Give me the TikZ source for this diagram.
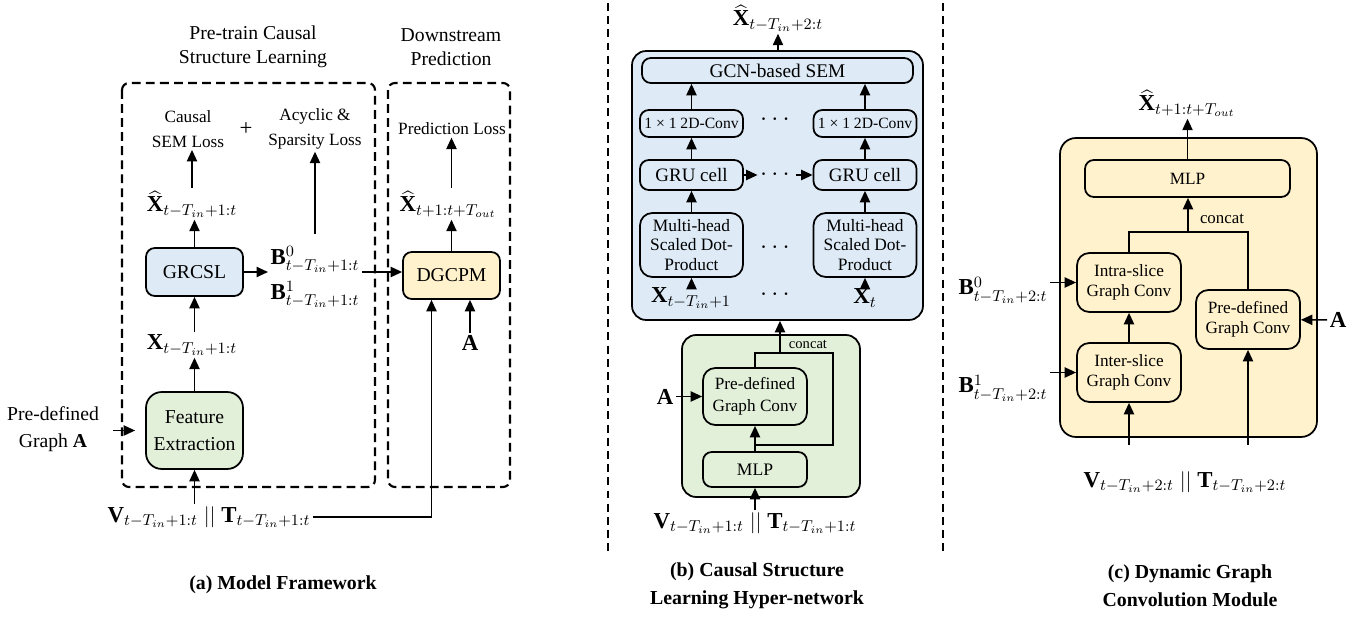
\documentclass[tikz,border=0pt]{standalone}
\usepackage{fontspec}
\setmainfont{Liberation Serif}
\usepackage{amsmath}
\usepackage{tikz}
\usetikzlibrary{calc}
\usetikzlibrary{positioning}
\usetikzlibrary{arrows.meta}
\definecolor{boxblue}{HTML}{DEEBF7}
\definecolor{boxgreen}{HTML}{E2F0D9}
\definecolor{boxyellow}{HTML}{FFF2CC}
\tikzset{blk/.style={draw=black, line width=1pt, rounded corners=5pt, inner sep=1pt, align=center}}
\tikzset{dashbox/.style={draw=black, line width=1.2pt, dash pattern=on 5pt off 3pt, rounded corners=4pt}}
\tikzset{sepline/.style={draw=black, line width=0.6pt, dash pattern=on 4.5pt off 3pt}}
\tikzset{lbl/.style={inner sep=1pt, font=\fontsize{13}{15}\selectfont}}
\tikzset{txt/.style={inner sep=1pt, align=center, font=\fontsize{11.2}{14}\selectfont}}
\tikzset{dots/.style={inner sep=1pt, font=\fontsize{14}{15}\selectfont}}
\tikzset{captxt/.style={align=center, font=\bfseries\fontsize{11.3}{16}\selectfont}}

\begin{document}
\begin{tikzpicture}[x=0.02cm, y=-0.02cm, >={Triangle[length=6.5pt,width=5.8pt]}, line width=0.9pt]
		\useasboundingbox (0,0) rectangle (1367,618);
		% (a) model framework
		\draw[dashbox] (122,83) rectangle (375,487);
		\draw[dashbox] (388,83) rectangle (510,487);
		\node[txt] (ttl1) at (253,47) {Pre-train Causal\\Structure Learning};
		\node[txt] (ttl2) at (451,47) {Downstream\\Prediction};
		\node[txt, font=\fontsize{9.8}{14}\selectfont] (semloss) at (188,129) {Causal\\SEM Loss};
		\node[txt, font=\fontsize{13}{15}\selectfont] (plus) at (246,129) {+};
		\node[txt, font=\fontsize{9.8}{14}\selectfont] (acyloss) at (315,129) {Acyclic \&\\Sparsity Loss};
		\node[txt, font=\fontsize{9.8}{14}\selectfont] (predloss) at (452,129) {Prediction Loss};
		\node[lbl] (xhata) at (192,204) {$\widehat{\mathbf X}_{t-T_{in}+1:t}$};
		\node[lbl] (xhatb) at (448,204) {$\widehat{\mathbf X}_{t+1:t+T_{out}}$};
		\node[blk, fill=boxblue, minimum width=1.94cm, minimum height=0.96cm, txt] (grcsl) at (194.5,272) {GRCSL};
		\node[lbl, anchor=west, align=left] (bb) at (268,277) {$\mathbf B^0_{t-T_{in}+1:t}$\\[5pt]$\mathbf B^1_{t-T_{in}+1:t}$};
		\node[blk, fill=boxyellow, minimum width=1.94cm, minimum height=0.94cm, txt] (dgcpm) at (451.5,275.5) {DGCPM};
		\node[lbl] (xa) at (192,345) {$\mathbf X_{t-T_{in}+1:t}$};
		\node[lbl] (aa) at (470,343) {$\mathbf A$};
		\node[blk, fill=boxgreen, rounded corners=9pt, minimum width=1.94cm, minimum height=1.54cm, txt, font=\fontsize{11.2}{15.5}\selectfont] (featx) at (194.5,430.5) {Feature\\Extraction};
		\node[txt, font=\fontsize{11.2}{15.5}\selectfont] (pgraph) at (53,429) {Pre-defined\\Graph $\mathbf A$};
		\node[lbl] (vta) at (209,517) {$\mathbf V_{t-T_{in}+1:t}\;||\;\mathbf T_{t-T_{in}+1:t}$};
		\node[captxt] (capa) at (283,585) {(a) Model Framework};
		\coordinate (acyin) at (315,234);
		\path [->] (dgcpm.north |- xhata.north) edge (dgcpm.north |- predloss.south);
		\path [->] (xhata.north) edge (xhata.north |- semloss.south);
		\path [->] (acyin) edge (acyin |- acyloss.south);
		\path [->] (grcsl.north) edge (grcsl.north |- xhata.south);
		\path [->] (grcsl.south |- xa.north) edge (grcsl.south);
		\path [->] (featx.north) edge (featx.north |- xa.south);
		\path [->] (featx.south |- vta.north) edge (featx.south);
		\path [->] (grcsl.east) edge (grcsl.east -| bb.west);
		\path [->] (grcsl.east -| bb.east) edge (grcsl.east -| dgcpm.west);
		\path [->] (dgcpm.north) edge (dgcpm.north |- xhatb.south);
		\path [->] (aa.north) edge (aa.north |- dgcpm.south);
		\path [->, shorten <=6.8pt, shorten >=5.7pt] (pgraph.east |- featx.west) edge (featx.west);
		\draw [->] (vta.east) -| ($(dgcpm.south)+(-20,0)$);
		% (b) hyper-network
		\draw[sepline] (608,3) -- (608,553);
		\draw[sepline] (943,3) -- (943,553);
		\node[blk, fill=boxblue, rounded corners=8pt, minimum width=5.82cm, minimum height=5.38cm] (hyper) at (777.5,185.5) {};
		\node[blk, fill=boxblue, minimum width=5.42cm, minimum height=0.5cm, font=\fontsize{11}{13}\selectfont] (gcnsem) at (777.5,70.5) {GCN-based SEM};
		\node[blk, fill=boxblue, minimum width=2.06cm, minimum height=0.54cm, font=\fontsize{8.9}{10}\selectfont] (convl) at (691.5,123.5) {1 × 1 2D-Conv};
		\node[blk, fill=boxblue, minimum width=2.06cm, minimum height=0.54cm, font=\fontsize{8.9}{10}\selectfont] (convr) at (865,123.5) {1 × 1 2D-Conv};
		\node[blk, fill=boxblue, minimum width=2.06cm, minimum height=0.6cm, font=\fontsize{10.8}{12}\selectfont] (grul) at (691.5,175) {GRU cell};
		\node[blk, fill=boxblue, minimum width=2.06cm, minimum height=0.6cm, font=\fontsize{10.8}{12}\selectfont] (grur) at (865,175) {GRU cell};
		\node[blk, fill=boxblue, rounded corners=7pt, minimum width=2.06cm, minimum height=1.28cm, font=\fontsize{9.9}{11.3}\selectfont] (mhl) at (691.5,245) {Multi-head\\Scaled Dot-\\Product};
		\node[blk, fill=boxblue, rounded corners=7pt, minimum width=2.06cm, minimum height=1.28cm, font=\fontsize{9.9}{11.3}\selectfont] (mhr) at (865,245) {Multi-head\\Scaled Dot-\\Product};
		\node[lbl] (xinl) at (691,298) {$\mathbf X_{t-T_{in}+1}$};
		\node[lbl] (xinr) at (865,298) {$\mathbf X_t$};
		\node[dots] (dconv) at (777,120) {$\cdots$};
		\node[dots] (dgru) at (777,175) {$\cdots$};
		\node[dots] (dmh) at (777,248) {$\cdots$};
		\node[dots] (dx) at (777,295) {$\cdots$};
		\node[lbl] (xhatc) at (778,18) {$\widehat{\mathbf X}_{t-T_{in}+2:t}$};
		\node[blk, fill=boxgreen, rounded corners=8pt, minimum width=3.56cm, minimum height=3.24cm] (embed) at (771,416) {};
		\node[blk, fill=boxgreen, rounded corners=7pt, minimum width=2.08cm, minimum height=1.14cm, font=\fontsize{9.8}{12.3}\selectfont] (pgconv) at (755,396.5) {Pre-defined\\Graph Conv};
		\node[blk, fill=boxgreen, minimum width=2.08cm, minimum height=0.7cm, font=\fontsize{10}{12}\selectfont] (mlpb) at (755,469.5) {MLP};
		\node[lbl] (ab) at (665,396.5) {$\mathbf A$};
		\node[lbl] (vtb) at (755,523) {$\mathbf V_{t-T_{in}+1:t}\;||\;\mathbf T_{t-T_{in}+1:t}$};
		\node[inner sep=1pt, font=\fontsize{8.3}{10}\selectfont] (concatb) at (808,344) {concat};
		\node[captxt] (capb) at (757,586) {(b) Causal Structure\\Learning Hyper-network};
		\path [->] (hyper.north -| xhatc) edge (xhatc.south);
		\path [->] (convl.north) edge (convl.north |- gcnsem.south);
		\path [->] (convr.north) edge (convr.north |- gcnsem.south);
		\path [->] (grul) edge (convl);
		\path [->] (grur) edge (convr);
		\path [->] (mhl) edge (grul);
		\path [->] (mhr) edge (grur);
		\path [->] (mhl.south |- xinl.north) edge (mhl.south);
		\path [->] (mhr.south |- xinr.north) edge (mhr.south);
		\path [->] (grul) edge (dgru);
		\path [->] (dgru) edge (grur);
		\path [->] (mlpb) edge (pgconv);
		\path [->] (mlpb.south |- vtb.north) edge (mlpb.south);
		\path [->] (ab) edge (pgconv);
		\coordinate (cattop) at (833,353);
		\coordinate (catbot) at (755,445);
		\coordinate (catout) at (780,353);
		\draw (pgconv.north) |- (cattop) |- (catbot);
		\path [->] (catout) edge (catout |- hyper.south);
		% (c) dynamic graph convolution
		\node[blk, fill=boxyellow, rounded corners=9pt, minimum width=5.14cm, minimum height=5.98cm] (dgcm) at (1188.5,287.5) {};
		\node[blk, fill=boxyellow, minimum width=4.1cm, minimum height=0.74cm, font=\fontsize{9.8}{12}\selectfont] (mlpc) at (1187.5,178.5) {MLP};
		\node[blk, fill=boxyellow, rounded corners=7pt, minimum width=2.08cm, minimum height=1.18cm, font=\fontsize{9.8}{11.5}\selectfont] (intra) at (1129,282.5) {Intra-slice\\Graph Conv};
		\node[blk, fill=boxyellow, rounded corners=7pt, minimum width=2.08cm, minimum height=1.18cm, font=\fontsize{9.8}{11.5}\selectfont] (inter) at (1129,372.5) {Inter-slice\\Graph Conv};
		\node[blk, fill=boxyellow, rounded corners=7pt, minimum width=2.08cm, minimum height=1.18cm, font=\fontsize{9.8}{11.5}\selectfont] (pgconvc) at (1248,319.5) {Pre-defined\\Graph Conv};
		\node[lbl] (xhatd) at (1187,103) {$\widehat{\mathbf X}_{t+1:t+T_{out}}$};
		\node[inner sep=1pt, font=\fontsize{9.6}{11}\selectfont] (concatc) at (1222,219) {concat};
		\node[lbl, anchor=east] (bzero) at (1050,290) {$\mathbf B^0_{t-T_{in}+2:t}$};
		\node[lbl, anchor=east] (bone) at (1050,388) {$\mathbf B^1_{t-T_{in}+2:t}$};
		\node[lbl] (ac) at (1338,320) {$\mathbf A$};
		\node[lbl] (vtc) at (1185,482) {$\mathbf V_{t-T_{in}+2:t}\;||\;\mathbf T_{t-T_{in}+2:t}$};
		\node[captxt] (capc) at (1190,586) {(c) Dynamic Graph\\Convolution Module};
		\coordinate (catc) at (1188,232);
		\coordinate (vinl) at (1129,445);
		\coordinate (vinr) at (1248,445);
		\path [->] (mlpc.north) edge (mlpc.north |- xhatd.south);
		\draw (intra.north) |- (catc) -| (pgconvc.north);
		\path [->] (catc) edge (catc |- mlpc.south);
		\path [->] (inter) edge (intra);
		\path [->] (intra.west -| bzero.east) edge (intra.west);
		\path [->] (inter.west -| bone.east) edge (inter.west);
		\path [->] (ac) edge (pgconvc);
		\path [->] (vinl) edge (inter.south);
		\path [->] (vinr) edge (pgconvc.south);
	\end{tikzpicture}
\end{document}
